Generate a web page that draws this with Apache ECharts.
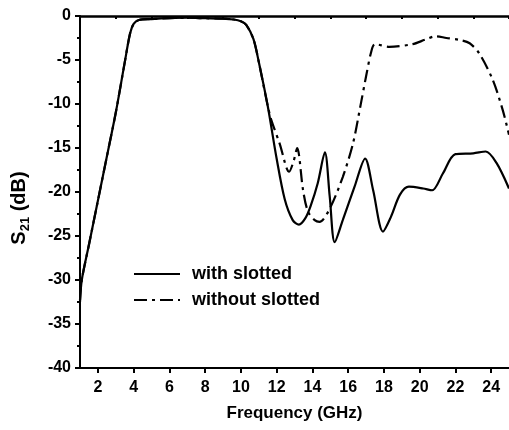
<!DOCTYPE html>
<html>
<head>
<meta charset="utf-8">
<script src="https://cdn.jsdelivr.net/npm/echarts@6/dist/echarts.min.js"></script>
<style>html,body{margin:0;padding:0;background:#fff;}#c{width:509px;height:430px;}</style>
</head>
<body>
<div id="c"></div>
<script>
const seriesNames = ['with slotted', 'without slotted'];
const freqWith = [1, 1.1, 1.5, 2, 2.5, 3, 3.5, 3.8, 4.0, 4.3, 5, 6, 7, 8, 9, 9.6, 10.0, 10.3, 10.7, 11.0, 11.5, 12.0, 12.45, 12.9, 13.25, 13.6, 13.9, 14.3, 14.7, 14.97, 15.25, 15.7, 16.36, 16.95, 17.4, 17.95, 18.4, 18.9, 19.4, 20.2, 20.7, 21.3, 22.0, 23.0, 23.7, 24.3, 25];
const s21With = [-32.5, -30, -26, -21, -16, -11, -5.3, -2.0, -0.9, -0.45, -0.35, -0.25, -0.2, -0.25, -0.3, -0.4, -0.6, -1.0, -2.6, -5.2, -10.2, -16.2, -20.8, -23.2, -23.7, -23.0, -21.6, -19.0, -15.5, -20.5, -25.7, -23.2, -19.4, -16.2, -19.8, -24.5, -22.8, -20.3, -19.4, -19.6, -19.8, -17.9, -15.7, -15.6, -15.4, -16.7, -19.6];
const freqWithout = [1, 1.1, 1.5, 2, 2.5, 3, 3.5, 3.8, 4.0, 4.3, 5, 6, 7, 8, 9, 9.6, 10.0, 10.3, 10.7, 11.0, 11.5, 11.7, 12.17, 12.7, 12.95, 13.15, 13.48, 13.75, 14.13, 14.4, 14.97, 15.7, 16.27, 16.7, 17.0, 17.3, 17.5, 18.3, 19.6, 20.3, 20.9, 21.5, 22.2, 22.8, 23.35, 24.1, 24.65, 25];
const s21Without = [-32.3, -30, -26, -21, -16, -11, -5.3, -2.0, -0.9, -0.45, -0.35, -0.25, -0.2, -0.25, -0.3, -0.4, -0.6, -1.0, -2.6, -5.2, -10.2, -11.8, -14.5, -17.7, -16.5, -15.0, -19.8, -22.2, -23.2, -23.4, -21.9, -18.3, -14.5, -10.1, -6.9, -4.0, -3.2, -3.5, -3.2, -2.7, -2.3, -2.5, -2.7, -3.1, -4.3, -7.3, -10.7, -13.5];
const xMajorTicks = [2, 4, 6, 8, 10, 12, 14, 16, 18, 20, 22, 24];
const xMinorTicks = [1, 3, 5, 7, 9, 11, 13, 15, 17, 19, 21, 23, 25];

const zip = (xs, ys) => xs.map((x, i) => [x, ys[i]]);
const FONT = '"Liberation Sans", Arial, sans-serif';

const chart = echarts.init(document.getElementById('c'), null, {renderer: 'canvas'});
chart.setOption({
  animation: false,
  backgroundColor: '#fff',
  grid: {left: 80, right: -1, top: 16, bottom: 62, containLabel: false},
  legend: {
    orient: 'vertical', left: 128, top: 260, itemWidth: 46, itemHeight: 12, itemGap: 8,
    itemStyle: {opacity: 0},
    textStyle: {fontFamily: FONT, fontWeight: 'bold', fontSize: 18, color: '#000', padding: [0, 0, 0, 7]},
    data: seriesNames
  },
  xAxis: [
    {
      type: 'value', min: 1, max: 25, position: 'bottom',
      name: 'Frequency (GHz)', nameLocation: 'middle', nameGap: 37,
      nameTextStyle: {fontFamily: FONT, fontWeight: 'bold', fontSize: 17, color: '#000'},
      axisLine: {show: true, onZero: false, lineStyle: {color: '#000', width: 2}},
      axisTick: {show: true, inside: false, length: 5, customValues: xMajorTicks, lineStyle: {color: '#000', width: 2}},
      axisLabel: {show: true, customValues: xMajorTicks, margin: 12, fontFamily: FONT, fontWeight: 'bold', fontSize: 16, color: '#000'},
      splitLine: {show: false}
    },
    {
      type: 'value', min: 1, max: 25, position: 'bottom',
      axisLine: {show: false},
      axisTick: {show: true, inside: false, length: 3, customValues: xMinorTicks, lineStyle: {color: '#000', width: 2}},
      axisLabel: {show: false},
      splitLine: {show: false}
    },
    {
      type: 'value', min: 1, max: 25, position: 'top',
      axisLine: {show: true, onZero: false, lineStyle: {color: '#000', width: 2.5}},
      axisTick: {show: false}, axisLabel: {show: false}, splitLine: {show: false}
    }
  ],
  yAxis: {
    type: 'value', min: -40, max: 0, interval: 5,
    name: '{a|S}{b|21}{a| (dB)}', nameLocation: 'middle', nameRotate: 90, nameGap: 48,
    nameTextStyle: {
      padding: [0, 32, 0, 0],
      rich: {
        a: {fontFamily: FONT, fontWeight: 'bold', fontSize: 20, color: '#000'},
        b: {fontFamily: FONT, fontWeight: 'bold', fontSize: 13, color: '#000', verticalAlign: 'bottom', padding: [12, 0, 0, 0]}
      }
    },
    axisLine: {show: true, onZero: false, lineStyle: {color: '#000', width: 2}},
    axisTick: {show: true, inside: false, length: 5, lineStyle: {color: '#000', width: 2}},
    minorTick: {show: true, splitNumber: 2, length: 3, lineStyle: {color: '#000', width: 2}},
    axisLabel: {margin: 9, fontFamily: FONT, fontWeight: 'bold', fontSize: 16, color: '#000'},
    splitLine: {show: false}
  },
  series: [
    {
      name: seriesNames[0], type: 'line', xAxisIndex: 0, data: zip(freqWith, s21With),
      symbol: 'none', smooth: 0.3,
      lineStyle: {color: '#000', width: 2.2, type: 'solid'},
      itemStyle: {color: '#000'}
    },
    {
      name: seriesNames[1], type: 'line', xAxisIndex: 0, data: zip(freqWithout, s21Without),
      symbol: 'none', smooth: 0.3,
      lineStyle: {color: '#000', width: 2.2, type: [13, 5, 3, 5]},
      itemStyle: {color: '#000'}
    }
  ]
});
</script>
</body>
</html>
